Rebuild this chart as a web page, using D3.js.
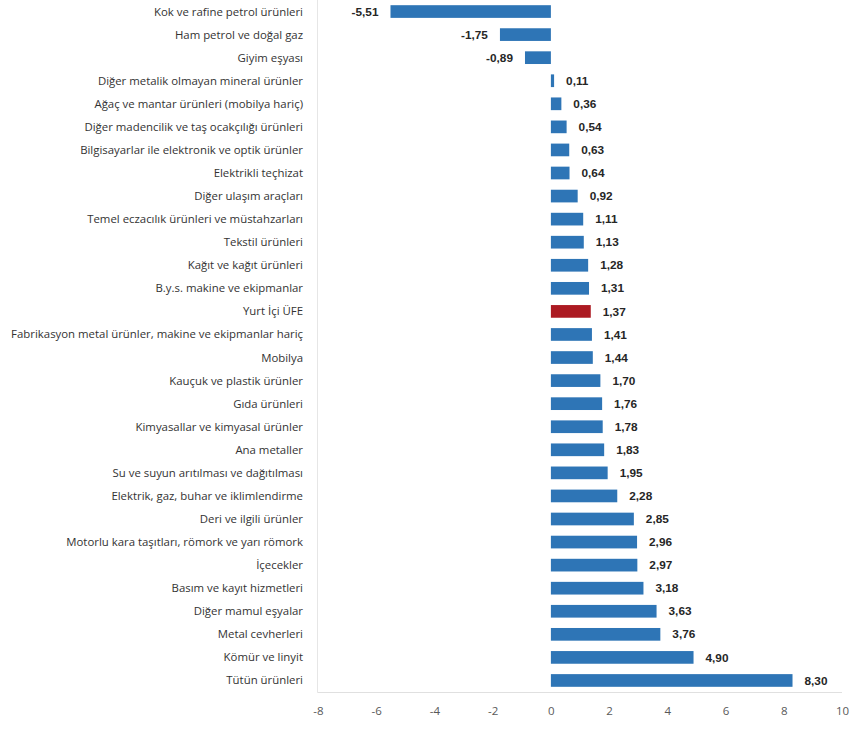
<!DOCTYPE html>
<html>
<head>
<meta charset="utf-8">
<script src="https://cdn.jsdelivr.net/npm/d3@7"></script>
<style>
  html, body { margin: 0; padding: 0; background: #fff; }
  svg { display: block; }
</style>
</head>
<body>
<svg id="chart" width="850" height="746"></svg>
<script>
const categories = [
  "Kok ve rafine petrol ürünleri",
  "Ham petrol ve doğal gaz",
  "Giyim eşyası",
  "Diğer metalik olmayan mineral ürünler",
  "Ağaç ve mantar ürünleri (mobilya hariç)",
  "Diğer madencilik ve taş ocakçılığı ürünleri",
  "Bilgisayarlar ile elektronik ve optik ürünler",
  "Elektrikli teçhizat",
  "Diğer ulaşım araçları",
  "Temel eczacılık ürünleri ve müstahzarları",
  "Tekstil ürünleri",
  "Kağıt ve kağıt ürünleri",
  "B.y.s. makine ve ekipmanlar",
  "Yurt İçi ÜFE",
  "Fabrikasyon metal ürünler, makine ve ekipmanlar hariç",
  "Mobilya",
  "Kauçuk ve plastik ürünler",
  "Gıda ürünleri",
  "Kimyasallar ve kimyasal ürünler",
  "Ana metaller",
  "Su ve suyun arıtılması ve dağıtılması",
  "Elektrik, gaz, buhar ve iklimlendirme",
  "Deri ve ilgili ürünler",
  "Motorlu kara taşıtları, römork ve yarı römork",
  "İçecekler",
  "Basım ve kayıt hizmetleri",
  "Diğer mamul eşyalar",
  "Metal cevherleri",
  "Kömür ve linyit",
  "Tütün ürünleri"
];
const values = [
  -5.51, -1.75, -0.89, 0.11, 0.36, 0.54, 0.63, 0.64, 0.92, 1.11,
  1.13, 1.28, 1.31, 1.37, 1.41, 1.44, 1.70, 1.76, 1.78, 1.83,
  1.95, 2.28, 2.85, 2.96, 2.97, 3.18, 3.63, 3.76, 4.90, 8.30
];
const highlight = ["Yurt İçi ÜFE"];
const xTicks = [-8, -6, -4, -2, 0, 2, 4, 6, 8, 10];

const data = categories.map((c, i) => ({ cat: c, val: values[i] }));

const svg = d3.select("#chart");
const x = d3.scaleLinear().domain([-8, 10]).range([318, 842]);
const y = d3.scaleBand().domain(categories).range([0, 692]).paddingInner(0.45).paddingOuter(0.225);

// plot frame line
svg.append("line")
  .attr("x1", 317.5).attr("x2", 317.5).attr("y1", 0).attr("y2", 692.5)
  .attr("stroke", "#e6e6e6").attr("stroke-width", 1);

// x axis
const xAxis = d3.axisBottom(x).tickValues(xTicks).tickSize(0).tickPadding(14)
  .tickFormat(d => d3.format("d")(d).replace("−", "-"));
const gx = svg.append("g").attr("transform", "translate(0,692.5)").call(xAxis);
gx.select(".domain").attr("stroke", "#e0e0e0").attr("d", `M317.5,0H842`);
gx.selectAll("text")
  .attr("font-family", "'Open Sans', 'Noto Sans', sans-serif")
  .attr("font-size", 11.5)
  .attr("fill", "#595959");

// bars
svg.append("g").selectAll("rect").data(data).join("rect")
  .attr("x", d => x(Math.min(0, d.val)))
  .attr("y", d => y(d.cat))
  .attr("width", d => Math.abs(x(d.val) - x(0)))
  .attr("height", y.bandwidth())
  .attr("fill", d => highlight.includes(d.cat) ? "#AC1A22" : "#2E75B6");

// category labels
svg.append("g").selectAll("text").data(data).join("text")
  .attr("x", 303)
  .attr("y", d => y(d.cat) + y.bandwidth() / 2)
  .attr("dy", "0.35em")
  .attr("text-anchor", "end")
  .attr("font-family", "'Open Sans', 'Noto Sans', sans-serif")
  .attr("font-size", 11.4)
  .attr("fill", "#333333")
  .text(d => d.cat);

// value labels
const fmt = v => d3.format(".2f")(v).replace("−", "-").replace(".", ",");
svg.append("g").selectAll("text").data(data).join("text")
  .attr("x", d => d.val < 0 ? x(d.val) - 12 : x(d.val) + 12)
  .attr("y", d => y(d.cat) + y.bandwidth() / 2)
  .attr("dy", "0.35em")
  .attr("text-anchor", d => d.val < 0 ? "end" : "start")
  .attr("font-family", "'Liberation Sans', Arial, sans-serif")
  .attr("font-weight", "bold")
  .attr("font-size", 11.8)
  .attr("fill", "#262626")
  .text(d => fmt(d.val));
</script>
</body>
</html>
